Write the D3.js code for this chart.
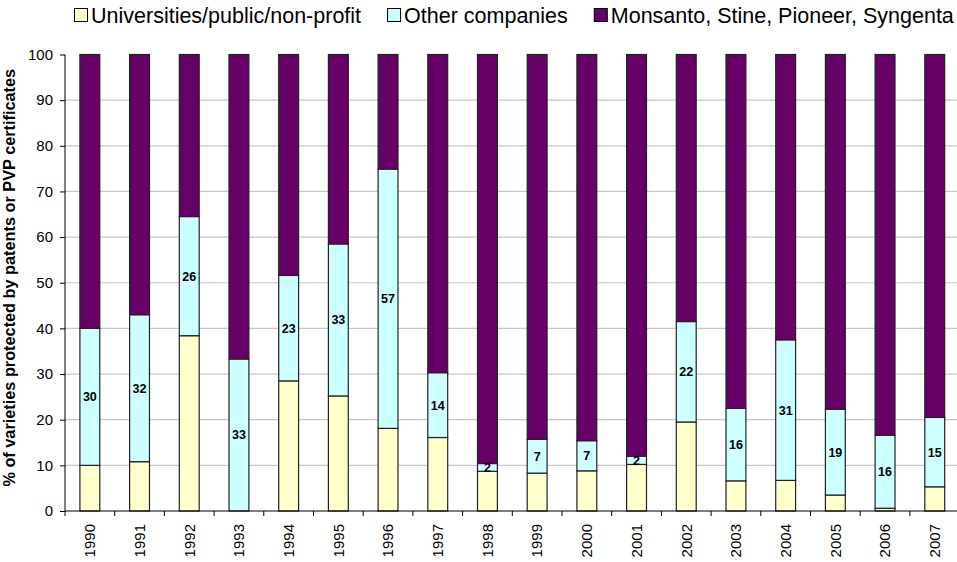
<!DOCTYPE html>
<html>
<head>
<meta charset="utf-8">
<script src="https://cdn.jsdelivr.net/npm/d3@7"></script>
<style>
    body { margin: 0; background: #fff; }
    svg { display: block; font-family: "Liberation Sans", Arial, sans-serif; }
</style>
</head>
<body>
<div id="chart"></div>
<script>
    var years = ["1990", "1991", "1992", "1993", "1994", "1995", "1996", "1997", "1998",
        "1999", "2000", "2001", "2002", "2003", "2004", "2005", "2006", "2007"];
    var universities = [10, 10.8, 38.4, 0, 28.5, 25.2, 18.1, 16.1, 8.7, 8.3, 8.8, 10.2, 19.5, 6.6, 6.7, 3.5, 0.6, 5.3];
    var otherCompanies = [30, 32.2, 26.1, 33.3, 23.1, 33.3, 56.8, 14.2, 1.7, 7.4, 6.6, 1.8, 22, 15.9, 30.8, 18.8, 16, 15.2];
    var bigFour = [60, 57, 35.5, 66.7, 48.4, 41.5, 25.1, 69.7, 89.6, 84.3, 84.6, 88, 58.5, 77.5, 62.5, 77.7, 83.4, 79.5];
    var otherLabels = ["30", "32", "26", "33", "23", "33", "57", "14", "2", "7", "7", "2", "22", "16", "31", "19", "16", "15"];
    var seriesNames = ["Universities/public/non-profit", "Other companies", "Monsanto, Stine, Pioneer, Syngenta"];
    var yTicks = [0, 10, 20, 30, 40, 50, 60, 70, 80, 90, 100];

    (function () {
        'use strict';

        var w = 957,
            h = 562;
        var plotLeft = 65, plotRight = 959.6, plotTop = 54.5, plotBottom = 511;
        var keys = ["uni", "other", "big"];
        var colors = { uni: "#ffffcc", other: "#ccffff", big: "#660066" };

        var rows = years.map(function (yr, i) {
            return { year: yr, uni: universities[i], other: otherCompanies[i], big: bigFour[i], label: otherLabels[i] };
        });

        var svg = d3.select("#chart").append("svg")
            .attr("width", w)
            .attr("height", h);

        var x = d3.scaleBand().domain(years).range([plotLeft, plotRight]).paddingInner(0.6).paddingOuter(0.3);
        var xb = d3.scaleBand().domain(years).range([plotLeft, plotRight]).padding(0);
        var y = d3.scaleLinear().domain([0, 100]).range([plotBottom, plotTop]);

        // gridlines
        svg.append("g").selectAll("line")
            .data(yTicks.filter(function (t) { return t > 0 && t < 100; }))
            .enter().append("line")
            .attr("x1", plotLeft).attr("x2", w)
            .attr("y1", function (d) { return y(d); })
            .attr("y2", function (d) { return y(d); })
            .attr("stroke", "#c8c8c8")
            .attr("stroke-width", 1.2);

        var stack = d3.stack().keys(keys)(rows);

        svg.append("g").selectAll("g")
            .data(stack)
            .enter().append("g")
            .attr("fill", function (d) { return colors[d.key]; })
            .selectAll("rect")
            .data(function (d) { return d; })
            .enter().append("rect")
            .attr("x", function (d) { return x(d.data.year); })
            .attr("width", x.bandwidth())
            .attr("y", function (d) { return y(d[1]); })
            .attr("height", function (d) { return y(d[0]) - y(d[1]); })
            .attr("stroke", "#222")
            .attr("stroke-width", 1.2);

        // value labels on the middle segment
        svg.append("g").selectAll("text")
            .data(stack[1])
            .enter().append("text")
            .attr("x", function (d) { return x(d.data.year) + x.bandwidth() / 2; })
            .attr("y", function (d) { return y((d[0] + d[1]) / 2); })
            .attr("dy", "0.36em")
            .attr("text-anchor", "middle")
            .attr("font-size", 12.5)
            .attr("font-weight", "bold")
            .attr("fill", "#000")
            .text(function (d) { return d.data.label; });

        // y axis
        var yAxis = svg.append("g")
            .attr("transform", "translate(" + plotLeft + ",0)")
            .call(d3.axisLeft(y).tickValues(yTicks).tickSize(5).tickPadding(7));
        yAxis.selectAll("text").attr("font-size", 15).attr("fill", "#000").attr("font-family", null);
        yAxis.selectAll("line, path").attr("stroke", "#000");
        yAxis.select(".domain").attr("d", "M0," + y(0) + "V" + y(100));

        // x axis
        var xAxis = svg.append("g")
            .attr("transform", "translate(0," + plotBottom + ")")
            .call(d3.axisBottom(xb).tickSize(0).tickPadding(7));
        xAxis.select(".domain").attr("d", "M" + plotLeft + ",0H" + w).attr("stroke", "#000");
        xAxis.selectAll("text")
            .attr("font-size", 15)
            .attr("font-family", null)
            .attr("fill", "#000")
            .attr("transform", "rotate(-90)")
            .attr("text-anchor", "end")
            .attr("x", -13)
            .attr("y", 0)
            .attr("dy", "0.35em");
        xAxis.selectAll(".boundary")
            .data(years)
            .enter().append("line")
            .attr("class", "boundary")
            .attr("x1", function (d) { return xb(d); })
            .attr("x2", function (d) { return xb(d); })
            .attr("y1", 0).attr("y2", 5)
            .attr("stroke", "#000");

        // y title
        svg.append("text")
            .attr("transform", "translate(15," + ((plotTop + plotBottom) / 2 - 5) + ") rotate(-90)")
            .attr("text-anchor", "middle")
            .attr("font-size", 16.3)
            .attr("font-weight", "bold")
            .text("% of varieties protected by patents or PVP certificates");

        // legend
        var lx = 74;
        seriesNames.forEach(function (name, i) {
            svg.append("rect")
                .attr("x", lx + 0.5).attr("y", 8.5)
                .attr("width", 13).attr("height", 13)
                .attr("fill", colors[keys[i]])
                .attr("stroke", "#000");
            var t = svg.append("text")
                .attr("x", lx + 17)
                .attr("y", 23)
                .attr("font-size", 21.5)
                .text(name);
            lx = lx + 17 + t.node().getComputedTextLength() + 26;
        });
    })();
</script>
</body>
</html>
